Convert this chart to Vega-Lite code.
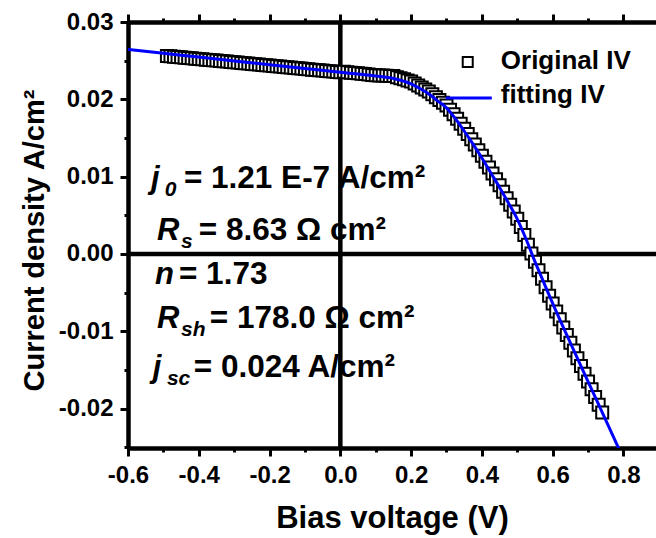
{
  "$schema": "https://vega.github.io/schema/vega-lite/v6.json",
  "width": 528,
  "height": 426,
  "autosize": {"type": "none"},
  "padding": {"left": 128, "top": 22, "right": 0, "bottom": 90},
  "background": "white",
  "config": {
    "view": {"stroke": null},
    "font": "Liberation Sans",
    "axis": {"grid": false, "domainColor": "black", "tickColor": "black", "labelColor": "black", "titleColor": "black", "labelFont": "Liberation Sans", "titleFont": "Liberation Sans"}
  },
  "datasets": {
    "orig": [
      {"V": -0.49, "j": 0.02561}, {"V": -0.48, "j": 0.02556}, {"V": -0.47, "j": 0.02552}, {"V": -0.46, "j": 0.02548}, {"V": -0.45, "j": 0.02544},
      {"V": -0.44, "j": 0.02539}, {"V": -0.43, "j": 0.02535}, {"V": -0.42, "j": 0.02531}, {"V": -0.41, "j": 0.02526}, {"V": -0.40, "j": 0.02522},
      {"V": -0.39, "j": 0.02518}, {"V": -0.38, "j": 0.02513}, {"V": -0.37, "j": 0.02509}, {"V": -0.36, "j": 0.02505}, {"V": -0.35, "j": 0.02501},
      {"V": -0.34, "j": 0.02496}, {"V": -0.33, "j": 0.02492}, {"V": -0.32, "j": 0.02488}, {"V": -0.31, "j": 0.02483}, {"V": -0.30, "j": 0.02479},
      {"V": -0.29, "j": 0.02475}, {"V": -0.28, "j": 0.02470}, {"V": -0.27, "j": 0.02466}, {"V": -0.26, "j": 0.02462}, {"V": -0.25, "j": 0.02458},
      {"V": -0.24, "j": 0.02453}, {"V": -0.23, "j": 0.02449}, {"V": -0.22, "j": 0.02445}, {"V": -0.21, "j": 0.02440}, {"V": -0.20, "j": 0.02436},
      {"V": -0.19, "j": 0.02432}, {"V": -0.18, "j": 0.02427}, {"V": -0.17, "j": 0.02423}, {"V": -0.16, "j": 0.02419}, {"V": -0.15, "j": 0.02415},
      {"V": -0.14, "j": 0.02410}, {"V": -0.13, "j": 0.02406}, {"V": -0.12, "j": 0.02402}, {"V": -0.11, "j": 0.02397}, {"V": -0.10, "j": 0.02393},
      {"V": -0.09, "j": 0.02389}, {"V": -0.08, "j": 0.02384}, {"V": -0.07, "j": 0.02380}, {"V": -0.06, "j": 0.02376}, {"V": -0.05, "j": 0.02372},
      {"V": -0.04, "j": 0.02367}, {"V": -0.03, "j": 0.02363}, {"V": -0.02, "j": 0.02359}, {"V": -0.01, "j": 0.02354}, {"V": 0.00, "j": 0.02350},
      {"V": 0.01, "j": 0.02355}, {"V": 0.02, "j": 0.02350}, {"V": 0.03, "j": 0.02345}, {"V": 0.04, "j": 0.02340}, {"V": 0.05, "j": 0.02336},
      {"V": 0.06, "j": 0.02331}, {"V": 0.07, "j": 0.02326}, {"V": 0.08, "j": 0.02321}, {"V": 0.09, "j": 0.02316}, {"V": 0.10, "j": 0.02311},
      {"V": 0.11, "j": 0.02309}, {"V": 0.12, "j": 0.02307}, {"V": 0.13, "j": 0.02305}, {"V": 0.14, "j": 0.02303}, {"V": 0.15, "j": 0.02300},
      {"V": 0.16, "j": 0.02286}, {"V": 0.17, "j": 0.02272}, {"V": 0.18, "j": 0.02258}, {"V": 0.19, "j": 0.02244}, {"V": 0.20, "j": 0.02230},
      {"V": 0.21, "j": 0.02204}, {"V": 0.22, "j": 0.02178}, {"V": 0.23, "j": 0.02152}, {"V": 0.24, "j": 0.02126}, {"V": 0.25, "j": 0.02100},
      {"V": 0.26, "j": 0.02064}, {"V": 0.27, "j": 0.02028}, {"V": 0.28, "j": 0.01992}, {"V": 0.29, "j": 0.01956}, {"V": 0.30, "j": 0.01920},
      {"V": 0.31, "j": 0.01864}, {"V": 0.32, "j": 0.01808}, {"V": 0.33, "j": 0.01748}, {"V": 0.34, "j": 0.01684}, {"V": 0.35, "j": 0.01620},
      {"V": 0.36, "j": 0.01552}, {"V": 0.37, "j": 0.01484}, {"V": 0.38, "j": 0.01414}, {"V": 0.39, "j": 0.01342}, {"V": 0.40, "j": 0.01270},
      {"V": 0.41, "j": 0.01194}, {"V": 0.42, "j": 0.01118}, {"V": 0.43, "j": 0.01042}, {"V": 0.44, "j": 0.00966}, {"V": 0.45, "j": 0.00890},
      {"V": 0.46, "j": 0.00805}, {"V": 0.47, "j": 0.00720}, {"V": 0.48, "j": 0.00636}, {"V": 0.49, "j": 0.00548}, {"V": 0.50, "j": 0.00455},
      {"V": 0.51, "j": 0.00350}, {"V": 0.52, "j": 0.00245}, {"V": 0.53, "j": 0.00120}, {"V": 0.54, "j": 0.00005}, {"V": 0.55, "j": -0.00100},
      {"V": 0.56, "j": -0.00210}, {"V": 0.57, "j": -0.00320}, {"V": 0.58, "j": -0.00430}, {"V": 0.59, "j": -0.00540}, {"V": 0.60, "j": -0.00640},
      {"V": 0.61, "j": -0.00745}, {"V": 0.62, "j": -0.00845}, {"V": 0.63, "j": -0.00950}, {"V": 0.64, "j": -0.01050}, {"V": 0.65, "j": -0.01150},
      {"V": 0.66, "j": -0.01250}, {"V": 0.67, "j": -0.01350}, {"V": 0.68, "j": -0.01450}, {"V": 0.69, "j": -0.01550}, {"V": 0.70, "j": -0.01650},
      {"V": 0.71, "j": -0.01750}, {"V": 0.72, "j": -0.01850}, {"V": 0.73, "j": -0.01950}, {"V": 0.74, "j": -0.02050}
    ],
    "fit": [
      {"V": -0.6, "j": 0.02644}, {"V": -0.5, "j": 0.02595}, {"V": -0.4, "j": 0.02546}, {"V": -0.3, "j": 0.02497}, {"V": -0.2, "j": 0.02448},
      {"V": -0.1, "j": 0.02399}, {"V": 0.0, "j": 0.02350}, {"V": 0.05, "j": 0.02326}, {"V": 0.1, "j": 0.02301}, {"V": 0.15, "j": 0.02270},
      {"V": 0.2, "j": 0.02200}, {"V": 0.225, "j": 0.02140}, {"V": 0.25, "j": 0.02070}, {"V": 0.275, "j": 0.01980}, {"V": 0.3, "j": 0.01890},
      {"V": 0.325, "j": 0.01750}, {"V": 0.35, "j": 0.01590}, {"V": 0.375, "j": 0.01420}, {"V": 0.4, "j": 0.01240}, {"V": 0.425, "j": 0.01050},
      {"V": 0.45, "j": 0.00860}, {"V": 0.475, "j": 0.00660}, {"V": 0.5, "j": 0.00450}, {"V": 0.525, "j": 0.00190}, {"V": 0.55, "j": -0.00100},
      {"V": 0.575, "j": -0.00370}, {"V": 0.6, "j": -0.00640}, {"V": 0.65, "j": -0.01150}, {"V": 0.7, "j": -0.01650}, {"V": 0.75, "j": -0.02150},
      {"V": 0.79, "j": -0.02550}
    ],
    "zero": [{"V": 0, "j": 0}],
    "ann": [
      {"x": -0.535, "y": 0.00853, "t": "j", "part": "main"},
      {"x": -0.496, "y": 0.00853, "t": "0", "part": "sub"},
      {"x": -0.442, "y": 0.00853, "t": "= 1.21 E-7 A/cm²", "part": "rest"},
      {"x": -0.518, "y": 0.00180, "t": "R", "part": "main"},
      {"x": -0.450, "y": 0.00180, "t": "s", "part": "sub"},
      {"x": -0.400, "y": 0.00180, "t": "= 8.63 Ω cm²", "part": "rest"},
      {"x": -0.524, "y": -0.00389, "t": "n", "part": "main"},
      {"x": -0.456, "y": -0.00389, "t": "= 1.73", "part": "rest"},
      {"x": -0.518, "y": -0.00958, "t": "R", "part": "main"},
      {"x": -0.450, "y": -0.00958, "t": "sh", "part": "sub"},
      {"x": -0.369, "y": -0.00958, "t": "= 178.0 Ω cm²", "part": "rest"},
      {"x": -0.530, "y": -0.01591, "t": "j", "part": "main"},
      {"x": -0.490, "y": -0.01591, "t": "sc", "part": "sub"},
      {"x": -0.414, "y": -0.01591, "t": "= 0.024 A/cm²", "part": "rest"}
    ],
    "legtext": [
      {"x": 0.4534, "y": 0.02393, "t": "Original IV"},
      {"x": 0.4534, "y": 0.01953, "t": "fitting IV"}
    ],
    "legsq": [{"x": 0.36, "y": 0.02482}],
    "legline": [{"x": 0.298, "x2": 0.428, "y": 0.02017}]
  },
  "layer": [
    {
      "data": {"name": "zero"},
      "mark": {"type": "rule", "color": "black", "strokeWidth": 4.5},
      "encoding": {
        "y": {
          "field": "j", "type": "quantitative",
          "scale": {"domain": [-0.0251, 0.03], "nice": false, "zero": false},
          "axis": {
            "orient": "left",
            "values": [-0.025, -0.02, -0.015, -0.01, -0.005, 0, 0.005, 0.01, 0.015, 0.02, 0.025, 0.03],
            "labelExpr": "abs(datum.value*100 - round(datum.value*100)) < 0.01 ? replace(format(datum.value, '.2f'), '\u2212', '-') : ''",
            "tickSize": {"condition": {"test": "abs(datum.value*100 - round(datum.value*100)) < 0.01", "value": 8}, "value": 4},
            "tickWidth": 3,
            "domainWidth": 4.5,
            "labelFontSize": 24, "labelFontWeight": "bold", "labelPadding": 7, "labelFlush": false, "labelOverlap": false,
            "title": "Current density A/cm²", "titleFontSize": 29, "titleFontWeight": "bold", "titlePadding": 9, "titleY": 218
          }
        }
      }
    },
    {
      "data": {"name": "zero"},
      "mark": {"type": "rule", "color": "black", "strokeWidth": 4.5},
      "encoding": {
        "x": {
          "field": "V", "type": "quantitative",
          "scale": {"domain": [-0.6, 0.892], "nice": false, "zero": false},
          "axis": {
            "orient": "top",
            "values": [-0.6, -0.5, -0.4, -0.3, -0.2, -0.1, 0, 0.1, 0.2, 0.3, 0.4, 0.5, 0.6, 0.7, 0.8],
            "labels": false,
            "title": null,
            "tickSize": {"condition": {"test": "abs(datum.value*5 - round(datum.value*5)) < 0.01", "value": 8}, "value": 4},
            "tickWidth": 3,
            "domainWidth": 4.5
          }
        }
      }
    },
    {
      "data": {"name": "orig"},
      "mark": {"type": "square", "fill": "white", "stroke": "black", "strokeWidth": 2, "size": 144, "opacity": 1},
      "encoding": {
        "x": {
          "field": "V", "type": "quantitative",
          "axis": {
            "orient": "bottom",
            "values": [-0.6, -0.5, -0.4, -0.3, -0.2, -0.1, 0, 0.1, 0.2, 0.3, 0.4, 0.5, 0.6, 0.7, 0.8],
            "labelExpr": "abs(datum.value*5 - round(datum.value*5)) < 0.01 ? replace(format(datum.value, '.1f'), '\u2212', '-') : ''",
            "tickSize": {"condition": {"test": "abs(datum.value*5 - round(datum.value*5)) < 0.01", "value": 8}, "value": 4},
            "tickWidth": 3,
            "domainWidth": 4.5,
            "labelFontSize": 24, "labelFontWeight": "bold", "labelPadding": 7, "labelFlush": false, "labelOverlap": false,
            "title": "Bias voltage (V)", "titleFontSize": 31, "titleFontWeight": "bold", "titlePadding": 16
          }
        },
        "y": {"field": "j", "type": "quantitative", "axis": null}
      }
    },
    {
      "data": {"name": "fit"},
      "mark": {"type": "line", "color": "#0000ff", "strokeWidth": 3, "interpolate": "monotone", "clip": true},
      "encoding": {
        "x": {"field": "V", "type": "quantitative", "axis": null},
        "y": {"field": "j", "type": "quantitative", "axis": null}
      }
    },
    {
      "data": {"name": "ann"},
      "transform": [{"filter": "datum.part == 'main'"}],
      "mark": {"type": "text", "align": "left", "baseline": "alphabetic", "fontSize": 31, "fontWeight": "bold", "fontStyle": "italic", "color": "black"},
      "encoding": {
        "x": {"field": "x", "type": "quantitative", "axis": null},
        "y": {"field": "y", "type": "quantitative", "axis": null},
        "text": {"field": "t"}
      }
    },
    {
      "data": {"name": "ann"},
      "transform": [{"filter": "datum.part == 'sub'"}],
      "mark": {"type": "text", "align": "left", "baseline": "alphabetic", "fontSize": 21, "fontWeight": "bold", "fontStyle": "italic", "color": "black", "dy": 8},
      "encoding": {
        "x": {"field": "x", "type": "quantitative", "axis": null},
        "y": {"field": "y", "type": "quantitative", "axis": null},
        "text": {"field": "t"}
      }
    },
    {
      "data": {"name": "ann"},
      "transform": [{"filter": "datum.part == 'rest'"}],
      "mark": {"type": "text", "align": "left", "baseline": "alphabetic", "fontSize": 31.5, "fontWeight": "bold", "color": "black"},
      "encoding": {
        "x": {"field": "x", "type": "quantitative", "axis": null},
        "y": {"field": "y", "type": "quantitative", "axis": null},
        "text": {"field": "t"}
      }
    },
    {
      "data": {"name": "legsq"},
      "mark": {"type": "square", "fill": "white", "stroke": "black", "strokeWidth": 2, "size": 100, "opacity": 1},
      "encoding": {
        "x": {"field": "x", "type": "quantitative", "axis": null},
        "y": {"field": "y", "type": "quantitative", "axis": null}
      }
    },
    {
      "data": {"name": "legline"},
      "mark": {"type": "rule", "color": "#0000ff", "strokeWidth": 3},
      "encoding": {
        "x": {"field": "x", "type": "quantitative", "axis": null},
        "x2": {"field": "x2"},
        "y": {"field": "y", "type": "quantitative", "axis": null}
      }
    },
    {
      "data": {"name": "legtext"},
      "mark": {"type": "text", "align": "left", "baseline": "alphabetic", "fontSize": 26, "fontWeight": "bold", "color": "black"},
      "encoding": {
        "x": {"field": "x", "type": "quantitative", "axis": null},
        "y": {"field": "y", "type": "quantitative", "axis": null},
        "text": {"field": "t"}
      }
    }
  ],
  "resolve": {"axis": {"x": "independent", "y": "independent"}}
}
